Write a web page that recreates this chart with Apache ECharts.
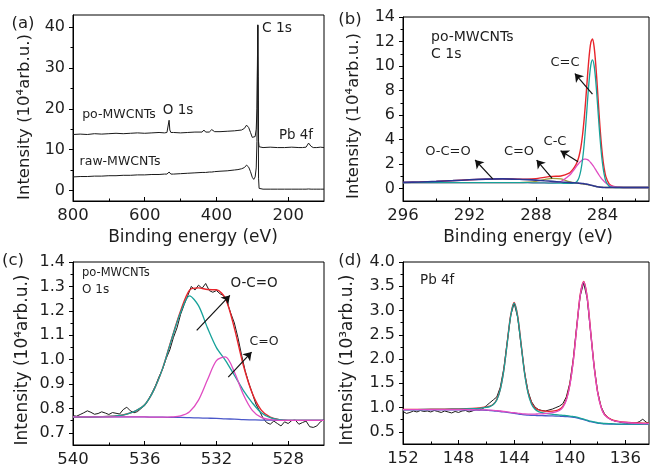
<!DOCTYPE html>
<html><head><meta charset="utf-8">
<script src="https://cdn.jsdelivr.net/npm/echarts@6/dist/echarts.min.js"></script>
<style>html,body{margin:0;padding:0;background:#fff}#c{width:650px;height:471px}</style>
</head><body><div id="c"></div>
<script>
// ---------- (a) survey ----------
const aEnergy = [800,780,760,740,720,700,680,660,640,620,600,580,560,545,538,534,532,530,527,520,500,480,460,440,435,430,420,413,405,390,370,350,340,330,322,316,310,305,300,296,292,289,287,285.5,284.6,283.5,282.5,281,278,270,250,230,210,190,170,160,150,145,143,141,138,136,130,120,110,100];
const aPo = [13.7,13.8,13.7,13.9,13.8,13.9,14.0,13.9,14.0,14.1,14.0,14.1,14.2,
  14.1,14.2,14.6,17.2,14.8,14.2,14.2,
  14.1,14.2,14.3,14.3,14.8,14.3,14.3,14.9,14.4,14.4,14.5,14.6,14.7,14.8,15.2,16.0,15.4,14.2,13.0,12.6,13.2,15.0,20.0,
  33.0,40.6,28.0,12.0,10.7,10.6,
  10.5,10.6,10.5,10.5,10.6,10.5,10.5,10.6,10.9,11.6,11.2,11.8,10.8,10.5,10.5,10.6,10.5];
const aRaw = [3.3,3.4,3.4,3.5,3.5,3.6,3.6,3.7,3.7,3.8,3.8,3.9,3.9,
  4.0,4.0,4.1,4.5,4.1,4.0,4.0,
  4.1,4.2,4.3,4.4,4.4,4.4,4.5,4.5,4.6,4.7,4.8,5.0,5.1,5.3,5.6,6.2,5.7,4.6,3.2,2.7,3.3,5.5,12.0,
  30.0,40.5,22.0,3.0,0.5,0.4,
  0.3,0.3,0.3,0.3,0.3,0.3,0.3,0.3,0.3,0.35,0.3,0.35,0.3,0.3,0.3,0.3,0.3];
const aXLabels = [800,600,400,200];
const aXMinor = [700,500,300];
const aYLabels = [0,10,20,30,40];
const aYMinor = [5,15,25,35];

// ---------- (b) C 1s ----------
const bEnergy = [296,295,294,293,292,291,290,289,288.5,288,287.5,287,286.5,286,285.8,285.6,285.5,285.4,285.3,285.2,285.1,285.0,284.9,284.8,284.7,284.6,284.5,284.4,284.3,284.2,284.1,284.0,283.9,283.8,283.6,283.4,283.2,283.0,282.5,282,281.2];
const bRed = [.52,.55,.60,.66,.73,.78,.80,.78,.78,.82,.93,1.01,1.04,1.27,1.54,1.95,2.26,2.71,3.38,4.36,5.70,7.35,9.18,10.82,11.92,12.21,11.54,10.07,8.10,6.02,4.17,2.71,1.69,1.01,.40,.21,.15,.12,.10,.10,.10];
const bTeal = [.50,.50,.50,.50,.50,.50,.50,.49,.49,.48,.47,.46,.45,.44,.44,.52,.66,.95,1.49,2.36,3.64,5.28,7.13,8.85,10.07,10.50,10.01,8.73,6.95,5.06,3.38,2.08,1.20,.64,.20,.11,.10,.10,.10,.10,.10];
const bMag = [.50,.50,.50,.50,.50,.50,.50,.49,.49,.48,.48,.48,.59,1.07,1.39,1.76,1.94,2.11,2.24,2.35,2.41,2.41,2.37,2.27,2.12,1.95,1.75,1.53,1.31,1.10,.91,.74,.60,.47,.30,.20,.15,.12,.10,.10,.10];
const bOlive = [.50,.50,.50,.50,.50,.50,.50,.50,.53,.60,.74,.85,.80,.57,.51,.46,.445,.43,.41,.40,.375,.36,.34,.31,.28,.25,.22,.19,.16,.14,.12,.11,.105,.10,.10,.10,.10,.10,.10,.10,.10];
const bNavy = [.52,.55,.60,.66,.73,.78,.80,.77,.74,.70,.65,.60,.55,.51,.49,.47,.465,.45,.44,.42,.405,.38,.36,.32,.29,.26,.22,.19,.16,.14,.12,.11,.105,.10,.10,.10,.10,.10,.10,.10,.10];
const bXLabels = [296,292,288,284];
const bXMinor = [294,290,286,282];
const bYLabels = [0,2,4,6,8,10,12,14];
const bYMinor = [1,3,5,7,9,11,13];

// ---------- (c) O 1s ----------
const cEnergy = [540,539.5,539,538.5,538,537.5,537,536.5,536,535.5,535,534.5,534,533.5,533,532.5,532,531.5,531,530.5,530,529.5,529,528.5,528,527.5,527,526.5,526];
const cBase = [.765,.765,.765,.765,.765,.765,.765,.765,.765,.764,.764,.763,.763,.762,.761,.760,.759,.757,.756,.754,.753,.752,.752,.751,.751,.751,.751,.751,.751];
const cTeal = [.765,.765,.765,.766,.767,.770,.777,.790,.815,.874,.964,1.083,1.193,1.261,1.221,1.130,1.049,.997,.936,.874,.823,.782,.762,.754,.751,.751,.751,.751,.751];
const cMag = [.765,.765,.765,.765,.765,.765,.765,.765,.765,.764,.764,.765,.769,.786,.834,.917,.996,1.011,.949,.857,.792,.763,.754,.751,.751,.751,.751,.751,.751];
const cRed = [.765,.765,.765,.766,.767,.770,.777,.790,.815,.874,.964,1.085,1.199,1.285,1.294,1.287,1.286,1.251,1.129,.977,.862,.793,.764,.754,.751,.751,.751,.751,.751];
const cDataE = [540.0,539.8,539.6,539.4,539.2,539.0,538.8,538.6,538.4,538.2,538.0,537.8,537.6,537.4,537.2,537.0,536.8,536.6,536.4,536.2,536.0,535.8,535.6,535.4,535.2,535.0,534.8,534.6,534.4,534.2,534.0,533.8,533.6,533.4,533.2,533.0,532.8,532.6,532.4,532.2,532.0,531.8,531.6,531.4,531.2,531.0,530.8,530.6,530.4,530.2,530.0,529.8,529.6,529.4,529.2,529.0,528.8,528.6,528.4,528.2,528.0,527.8,527.6,527.4,527.2,527.0,526.8,526.6,526.4,526.2,526.0];
const cData = [.770,.768,.775,.782,.790,.784,.776,.779,.786,.781,.775,.783,.780,.777,.795,.805,.790,.782,.787,.800,.812,.835,.862,.893,.930,.962,1.005,1.040,1.090,1.130,1.185,1.225,1.262,1.300,1.285,1.305,1.292,1.312,1.283,1.276,1.283,1.270,1.262,1.235,1.190,1.150,1.090,1.020,.955,.905,.862,.818,.790,.760,.742,.735,.748,.738,.728,.745,.738,.750,.752,.735,.742,.748,.725,.722,.728,.745,.755];
const cXLabels = [540,536,532,528];
const cXMinor = [538,534,530];
const cYLabels = [0.7,0.8,0.9,1.0,1.1,1.2,1.3,1.4];
const cYMinor = [0.75,0.85,0.95,1.05,1.15,1.25,1.35];

// ---------- (d) Pb 4f ----------
const dEnergy = [152,151,150,149,148,147,146.5,146,145.75,145.5,145.25,145,144.75,144.5,144.25,144,143.75,143.5,143.25,143,142.75,142.5,142.25,142,141.5,141,140.75,140.5,140.25,140,139.75,139.5,139.25,139,138.75,138.5,138.25,138,137.75,137.5,137,136.5,136,135,134.3];
const dBase = [.955,.955,.955,.955,.953,.950,.947,.945,.94,.935,.928,.92,.91,.90,.89,.88,.87,.86,.852,.845,.841,.838,.836,.834,.830,.826,.823,.82,.815,.81,.80,.79,.77,.75,.73,.71,.695,.68,.672,.665,.66,.655,.655,.655,.655];
const dTeal = [.959,.960,.962,.965,.969,.977,.986,1.006,1.022,1.062,1.158,1.37,1.76,2.33,2.89,3.15,2.87,2.29,1.70,1.295,1.071,.965,.918,.895,.869,.853,.847,.841,.834,.826,.815,.803,.782,.76,.74,.719,.704,.688,.68,.672,.667,.661,.661,.66,.66];
const dMag = [.958,.958,.959,.959,.958,.956,.954,.953,.948,.944,.937,.93,.92,.912,.903,.894,.885,.877,.871,.867,.866,.867,.869,.872,.884,.91,.94,1.005,1.15,1.45,1.955,2.645,3.31,3.59,3.27,2.565,1.85,1.32,1.007,.85,.744,.709,.693,.677,.671];
const dRed = [.962,.963,.966,.969,.974,.983,.993,1.014,1.03,1.071,1.167,1.38,1.77,2.342,2.903,3.164,2.885,2.307,1.721,1.317,1.096,.994,.951,.933,.923,.937,.964,1.026,1.169,1.466,1.97,2.658,3.322,3.60,3.28,2.574,1.859,1.328,1.015,.857,.751,.715,.699,.682,.676];
const dDataE = [152,151.75,151.5,151.25,151,150.75,150.5,150.25,150,149.75,149.5,149.25,149,148.75,148.5,148.25,148,147.75,147.5,147.25,147,146.75,146.5,146.25,146,145.75,145.5,145.25,145,144.75,144.5,144.25,144,143.75,143.5,143.25,143,142.75,142.5,142.25,142,141.75,141.5,141.25,141,140.75,140.5,140.25,140,139.75,139.5,139.25,139,138.75,138.5,138.25,138,137.75,137.5,137.25,137,136.75,136.5,136.25,136,135.75,135.5,135.25,135,134.75,134.5,134.3];
const dData = [.92,.88,.90,.93,.91,.94,.92,.93,.91,.94,.92,.90,.93,.91,.89,.92,.90,.93,.94,.91,.93,.96,.95,.98,1.04,1.10,1.16,1.22,1.42,1.80,2.36,2.90,3.15,2.86,2.28,1.72,1.33,1.12,1.01,.96,.94,.93,.95,.97,1.00,1.03,1.08,1.22,1.50,2.00,2.68,3.30,3.57,3.25,2.55,1.85,1.33,1.02,.87,.79,.75,.72,.71,.69,.68,.67,.67,.68,.71,.76,.70,.67];
const dXLabels = [152,148,144,140,136];
const dXMinor = [150,146,142,138];
const dYLabels = [0.5,1.0,1.5,2.0,2.5,3.0,3.5,4.0];
const dYMinor = [0.75,1.25,1.75,2.25,2.75,3.25,3.75];

// ---------- styling ----------
const F = 'DejaVu Sans';
const TXT = '#1e1e1e';
const C = {red:'#e8242b', teal:'#17a29a', mag:'#e04cc2', navy:'#2c3592', olive:'#9d9b3c', blue:'#4a57c9', black:'#1a1a1a'};
const zip = (xs, ys) => xs.map((x, i) => [x, ys[i]]);

const grids = [
  {left:73, top:15, width:251, height:186},
  {left:403, top:17, width:246, height:184},
  {left:73, top:262, width:251, height:183},
  {left:403, top:262, width:246, height:182}
];
const xr = [[100,800],[281.2,296],[526,540],[134.3,152]];
const yr = [[-2.6,43],[-1,14],[0.65,1.4],[0.25,4.0]];
const xl = [aXLabels,bXLabels,cXLabels,dXLabels];
const xm = [aXMinor,bXMinor,cXMinor,dXMinor];
const yl = [aYLabels,bYLabels,cYLabels,dYLabels];
const ym = [aYMinor,bYMinor,cYMinor,dYMinor];
const yfmt = [v=>String(v), v=>String(v), v=>v.toFixed(1), v=>v.toFixed(1)];

const xAxes = [], yAxes = [];
for (let g = 0; g < 4; g++) {
  xAxes.push({gridIndex:g, type:'value', inverse:true, min:xr[g][0], max:xr[g][1], position:'bottom',
    axisLine:{show:true, onZero:false, lineStyle:{color:'#000', width:1}},
    axisTick:{show:true, inside:true, length:4, lineStyle:{color:'#000', width:1}, customValues:xl[g]},
    axisLabel:{show:true, customValues:xl[g], fontFamily:F, fontSize:16.5, color:TXT, margin:6},
    splitLine:{show:false}});
  yAxes.push({gridIndex:g, type:'value', min:yr[g][0], max:yr[g][1], position:'left',
    axisLine:{show:true, onZero:false, lineStyle:{color:'#000', width:1}},
    axisTick:{show:true, inside:false, length:4, lineStyle:{color:'#000', width:1}, customValues:yl[g]},
    axisLabel:{show:true, customValues:yl[g], fontFamily:F, fontSize:16, color:TXT, margin:8, formatter:yfmt[g]},
    splitLine:{show:false}});
}
for (let g = 0; g < 4; g++) {
  xAxes.push({gridIndex:g, type:'value', inverse:true, min:xr[g][0], max:xr[g][1], position:'bottom',
    axisLine:{show:false, onZero:false}, axisLabel:{show:false}, splitLine:{show:false},
    axisTick:{show:true, inside:true, length:2.5, lineStyle:{color:'#000', width:1}, customValues:xm[g]}});
  yAxes.push({gridIndex:g, type:'value', min:yr[g][0], max:yr[g][1], position:'left',
    axisLine:{show:false, onZero:false}, axisLabel:{show:false}, splitLine:{show:false},
    axisTick:{show:true, inside:false, length:2.5, lineStyle:{color:'#000', width:1}, customValues:ym[g]}});
}

function line(g, xs, ys, color, width, smooth, extra) {
  return Object.assign({type:'line', xAxisIndex:g, yAxisIndex:g, data:zip(xs, ys), showSymbol:false, symbol:'none',
    smooth:smooth || false, lineStyle:{color:color, width:width}, itemStyle:{color:color}, animation:false, silent:true, clip:true}, extra || {});
}
function arrows(pairs) {
  return {silent:true, animation:false, symbol:['none','arrow'], symbolSize:8, label:{show:false},
    lineStyle:{color:'#111', width:1.2, type:'solid'}, emphasis:{disabled:true},
    data: pairs.map(p => [{coord:p[0]}, {coord:p[1]}])};
}

const series = [
  line(0, aEnergy, aPo, C.black, 1),
  line(0, aEnergy, aRaw, C.black, 1),
  line(1, bEnergy, bRed, C.red, 1.4, 0.3),
  line(1, bEnergy, bOlive, C.olive, 1.3, 0.3),
  line(1, bEnergy, bMag, C.mag, 1.3, 0.3),
  line(1, bEnergy, bTeal, C.teal, 1.3, 0.3),
  line(1, bEnergy, bNavy, C.navy, 1.6, 0.3, {markLine: arrows([
    [[284.6,7.71],[285.66,9.39]],
    [[285.47,2.2],[286.52,3.1]],
    [[287.03,0.85],[287.96,2.34]],
    [[290.6,0.8],[291.66,2.34]]
  ])}),
  line(2, cDataE, cData, C.black, 1),
  line(2, cEnergy, cRed, C.red, 1.4, 0.3),
  line(2, cEnergy, cBase, C.blue, 1.3, 0.3),
  line(2, cEnergy, cTeal, C.teal, 1.3, 0.3),
  line(2, cEnergy, cMag, C.mag, 1.3, 0.3, {markLine: arrows([
    [[533.1,1.12],[531.25,1.263]],
    [[531.34,0.928],[530.04,1.031]]
  ])}),
  line(3, dDataE, dData, C.black, 1),
  line(3, dEnergy, dRed, C.red, 1.4, 0.3),
  line(3, dEnergy, dBase, C.blue, 1.3, 0.3),
  line(3, dEnergy, dTeal, C.teal, 1.3, 0.3),
  line(3, dEnergy, dMag, C.mag, 1.3, 0.3)
];

function T(x, y, text, size, align, rot) {
  return {type:'text', x:x, y:y, rotation:rot || 0, z:100, silent:true,
    style:{text:text, fill:TXT, fontFamily:F, fontSize:size, font: size + 'px "DejaVu Sans"',
      textAlign:align || 'center', textVerticalAlign:'middle', align:align || 'center', verticalAlign:'middle'}};
}
const R = Math.PI / 2;
const graphic = [
  T(23,24,'(a)',16.5), T(350,20,'(b)',16.5), T(13,261,'(c)',16.5), T(350,261,'(d)',16.5),
  T(25,117,'Intensity (10⁴arb.u.)',16.5,'center',R),
  T(354,116,'Intensity (10⁴arb.u.)',16.5,'center',R),
  T(23,360,'Intensity (10⁴arb.u.)',17,'center',R),
  T(348,360,'Intensity (10³arb.u.)',17,'center',R),
  T(193,238,'Binding energy (eV)',17), T(528,238,'Binding energy (eV)',17),
  T(119,115,'po-MWCNTs',12.5), T(178,110,'O 1s',13.5), T(277,28,'C 1s',13.8),
  T(296,136,'Pb 4f',13.4), T(120,162,'raw-MWCNTs',12.5),
  T(431,37,'po-MWCNTs',14,'left'), T(431,54,'C 1s',14,'left'),
  T(565,63,'C=C',13), T(555,142,'C-C',13), T(519,152,'C=O',13), T(448,152,'O-C=O',13),
  T(82,273,'po-MWCNTs',11.5,'left'), T(82,290,'O 1s',12,'left'),
  T(254,283,'O-C=O',13.5), T(264,342,'C=O',12.5),
  T(420,280,'Pb 4f',13.5,'left')
];

const chart = echarts.init(document.getElementById('c'), null, {renderer:'canvas'});
chart.setOption({
  animation:false,
  backgroundColor:'#fff',
  grid: grids.map(g => Object.assign({show:true, borderColor:'#000', borderWidth:1, backgroundColor:'transparent', containLabel:false}, g)),
  xAxis: xAxes, yAxis: yAxes, series: series, graphic: graphic
});
</script>
</body></html>
